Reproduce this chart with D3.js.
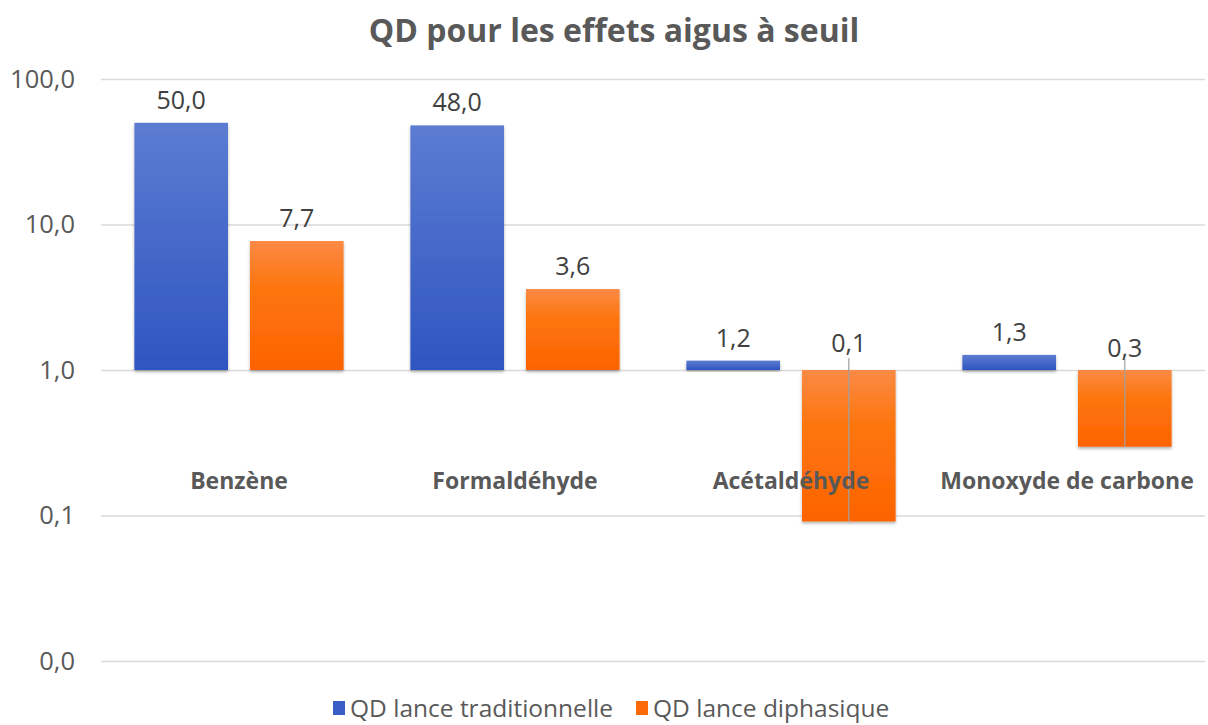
<!DOCTYPE html>
<html><head><meta charset="utf-8">
<script src="https://cdn.jsdelivr.net/npm/d3@7"></script>
<style>body{margin:0;background:#fff}svg{display:block}text{font-family:"Open Sans",sans-serif}</style>
</head><body><svg id="c" width="1208" height="725"></svg>
<script>
const categories = ["Benzène","Formaldéhyde","Acétaldéhyde","Monoxyde de carbone"];
const seriesNames = ["QD lance traditionnelle","QD lance diphasique"];
const traditionnelle = [50.0, 48.0, 1.16, 1.27];
const diphasique = [7.7, 3.6, 0.091, 0.297];
const tickValues = [0.01, 0.1, 1, 10, 100];

const svg = d3.select("#c");
const W=1208,H=725;
const m={left:101,right:3,top:79,bottom:64};
const x0=d3.scaleBand().domain(categories).range([m.left,W-m.right]).paddingInner(0.242).paddingOuter(0.121);
const x1=d3.scaleBand().domain(seriesNames).range([0,x0.bandwidth()]).paddingInner(0.19);
const y=d3.scaleLog().domain([0.01,100]).range([661,79]);
const fmt=v=>d3.format(".1f")(v).replace(".",",");

const defs=svg.append("defs");
const g1=defs.append("linearGradient").attr("id","gb").attr("x1",0).attr("x2",0).attr("y1",0).attr("y2",1);
g1.append("stop").attr("offset","0%").attr("stop-color","#5c7cd2");
g1.append("stop").attr("offset","100%").attr("stop-color","#2f55c0");
const g2=defs.append("linearGradient").attr("id","go").attr("x1",0).attr("x2",0).attr("y1",0).attr("y2",1);
g2.append("stop").attr("offset","0%").attr("stop-color","#fb8a45");
g2.append("stop").attr("offset","35%").attr("stop-color","#fd7610");
g2.append("stop").attr("offset","100%").attr("stop-color","#fd6300");
const f=defs.append("filter").attr("id","sh").attr("x","-10%").attr("y","-10%").attr("width","120%").attr("height","130%");
f.append("feDropShadow").attr("dx",0).attr("dy",2).attr("stdDeviation",1.5).attr("flood-color","#000").attr("flood-opacity",0.3);

// title
svg.append("text").attr("x",614).attr("y",42).attr("text-anchor","middle").attr("font-size",32).attr("font-weight",700).attr("fill","#595959").text("QD pour les effets aigus à seuil");

// grid + y axis
const yAxis=svg.append("g").attr("transform",`translate(${m.left},0)`)
  .call(d3.axisLeft(y).tickValues(tickValues).tickSize(-(W-m.left-m.right)).tickFormat(fmt).tickPadding(26));
yAxis.select(".domain").remove();
yAxis.selectAll(".tick line").attr("stroke","#d9d9d9").attr("stroke-width",1.5);
yAxis.selectAll(".tick text").attr("font-size",25.5).attr("fill","#595959").attr("font-family","Open Sans");

const data=[traditionnelle,diphasique];
const fills=["url(#gb)","url(#go)"];
const groups=svg.append("g").selectAll("g").data(categories).join("g").attr("transform",d=>`translate(${x0(d)},0)`);
groups.each(function(c,i){
  const g=d3.select(this);
  seriesNames.forEach((s,j)=>{
    const v=data[j][i];
    const top=Math.min(y(v),y(1)), bot=Math.max(y(v),y(1));
    g.append("rect").attr("x",x1(s)).attr("y",top).attr("width",x1.bandwidth()).attr("height",bot-top)
      .attr("fill",fills[j]).attr("filter","url(#sh)");
    if(v<1){
      g.append("line").attr("x1",x1(s)+x1.bandwidth()/2).attr("x2",x1(s)+x1.bandwidth()/2)
        .attr("y1",y(1)-12).attr("y2",bot).attr("stroke","#a0a0a0").attr("stroke-width",1.2);
    }
    const ly = v>=1 ? y(v)-14 : y(1)-18+ (Math.log10(v)>-0.9?5:0);
    g.append("text").attr("x",x1(s)+x1.bandwidth()/2).attr("y",ly).attr("text-anchor","middle")
      .attr("font-size",25).attr("fill","#404040").text(fmt(v));
  });
  g.append("text").attr("x",x0.bandwidth()/2).attr("y",489).attr("text-anchor","middle")
    .attr("font-size",23).attr("font-weight",700).attr("fill","#595959").text(c);
});

// legend
const leg=[{x:333,s:seriesNames[0],c:"#3a5dc6"},{x:636,s:seriesNames[1],c:"#fd6a0a"}];
leg.forEach(l=>{
  svg.append("rect").attr("x",l.x).attr("y",701).attr("width",12).attr("height",14).attr("fill",l.c);
  svg.append("text").attr("x",l.x+17).attr("y",717).attr("font-size",24.5).attr("fill","#595959").text(l.s);
});
</script></body></html>
